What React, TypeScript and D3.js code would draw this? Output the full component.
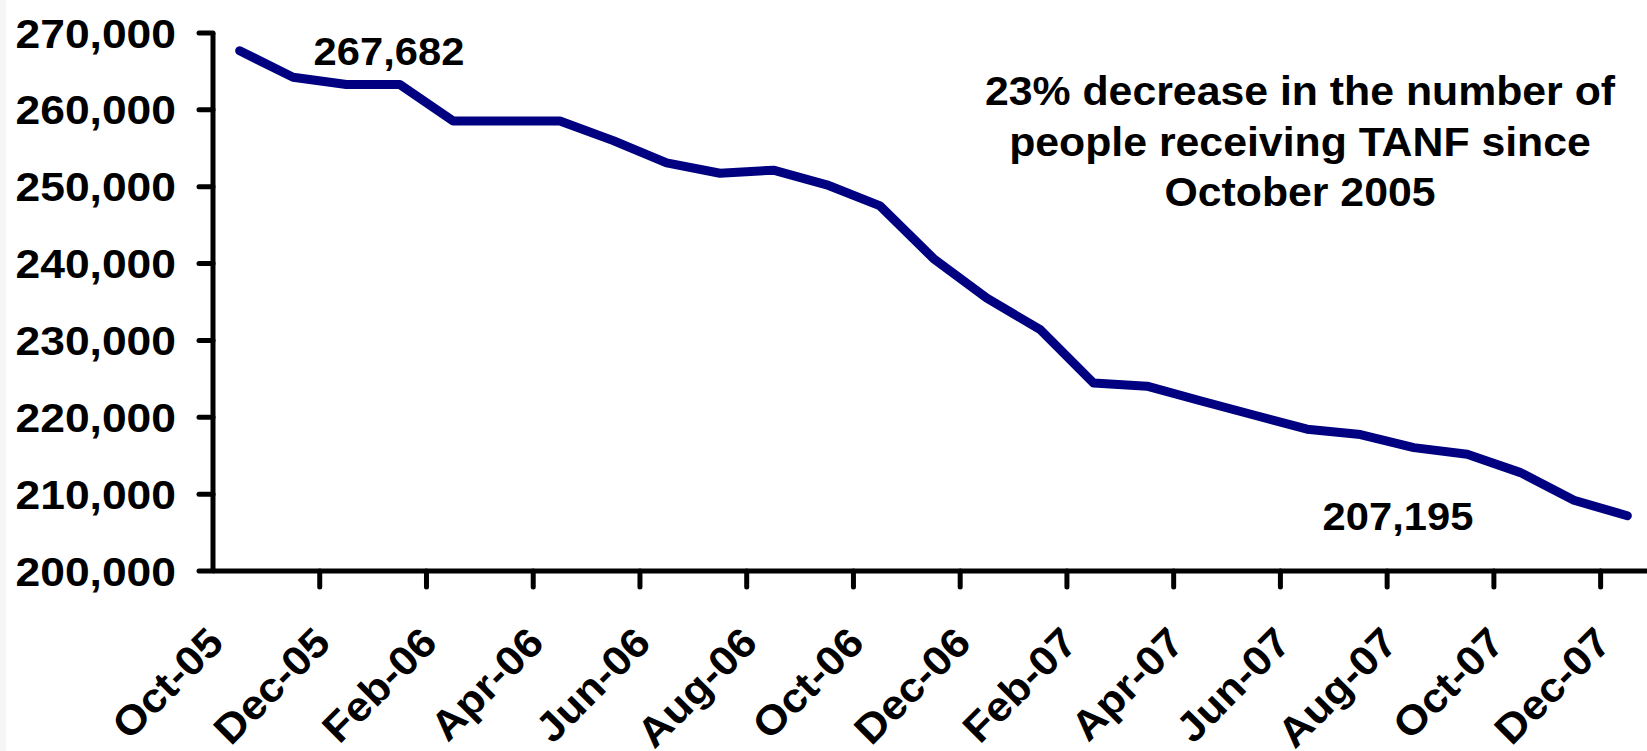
import * as d3 from 'd3';

const months = [
  'Oct-05', 'Nov-05', 'Dec-05', 'Jan-06', 'Feb-06', 'Mar-06', 'Apr-06',
  'May-06', 'Jun-06', 'Jul-06', 'Aug-06', 'Sep-06', 'Oct-06', 'Nov-06',
  'Dec-06', 'Jan-07', 'Feb-07', 'Mar-07', 'Apr-07', 'May-07', 'Jun-07',
  'Jul-07', 'Aug-07', 'Sep-07', 'Oct-07', 'Nov-07', 'Dec-07',
];

const recipients = [
  267682, 264250, 263300, 263300, 258550, 258550, 258550,
  256000, 253100, 251750, 252150, 250250, 247500, 240650,
  235500, 231400, 224450, 224050, 222150, 220300, 218450,
  217750, 216050, 215200, 212800, 209200, 207195,
];

const yTicks = [200000, 210000, 220000, 230000, 240000, 250000, 260000, 270000];

const noteLines = [
  '23% decrease in the number of',
  'people receiving TANF since',
  'October 2005',
];

const width = 1647;
const height = 751;
const font = '"Liberation Sans", Arial, sans-serif';
const stretch = 1.07;

export default function App() {
  const x = d3.scaleBand<string>().domain(months).range([213, 1654]);
  const y = d3.scaleLinear().domain([200000, 270000]).range([571, 33]);
  const cx = (m: string) => (x(m) ?? 0) + x.bandwidth() / 2;
  const fmt = d3.format(',');

  const line = d3
    .line<number>()
    .x((_, i) => cx(months[i]))
    .y((d) => y(d));

  // tick marks sit between categories, one every two months
  const boundaries = d3.range(2, months.length, 2).map((k) => 213 + k * x.step());
  const labelled = months.filter((_, i) => i % 2 === 0);

  const first = recipients[0];
  const last = recipients[recipients.length - 1];

  return (
    <svg
      width={width}
      height={height}
      style={{ position: 'absolute', left: 0, top: 0, background: '#fff' }}
      fontFamily={font}
      fontWeight="bold"
    >
      <rect x={0} y={0} width={width} height={height} fill="#fff" />
      <rect x={0} y={0} width={6} height={height} fill="#f6f6f8" />

      {/* y axis */}
      <line x1={213} x2={213} y1={y(270000)} y2={y(200000)} stroke="#000" strokeWidth={5} />
      {yTicks.map((t) => (
        <g key={t}>
          <line x1={199} x2={213} y1={y(t)} y2={y(t)} stroke="#000" strokeWidth={5} strokeLinecap="round" />
          <text
            transform={`translate(176,${y(t) + 14.5}) scale(${stretch},1)`}
            textAnchor="end"
            fontSize={41.5}
          >
            {fmt(t)}
          </text>
        </g>
      ))}

      {/* x axis */}
      <line x1={213} x2={width} y1={y(200000)} y2={y(200000)} stroke="#000" strokeWidth={5} />
      {boundaries.map((bx) => (
        <line key={bx} x1={bx} x2={bx} y1={y(200000)} y2={y(200000) + 16} stroke="#000" strokeWidth={5} strokeLinecap="round" />
      ))}
      {labelled.map((m) => (
        <text
          key={m}
          transform={`translate(${cx(m) - 14},${y(200000) + 74}) rotate(-45) scale(${stretch},1)`}
          textAnchor="end"
          fontSize={41}
        >
          {m}
        </text>
      ))}

      <path
        d={line(recipients) ?? ''}
        fill="none"
        stroke="#000080"
        strokeWidth={9}
        strokeLinejoin="round"
        strokeLinecap="round"
      />

      <text transform={`translate(389,65) scale(${stretch},1)`} textAnchor="middle" fontSize={39}>
        {fmt(first)}
      </text>
      <text transform={`translate(1398,530) scale(${stretch},1)`} textAnchor="middle" fontSize={39}>
        {fmt(last)}
      </text>

      {noteLines.map((t, i) => (
        <text
          key={t}
          transform={`translate(1300,${105 + i * 50.5}) scale(${stretch},1)`}
          textAnchor="middle"
          fontSize={40}
        >
          {t}
        </text>
      ))}
    </svg>
  );
}
